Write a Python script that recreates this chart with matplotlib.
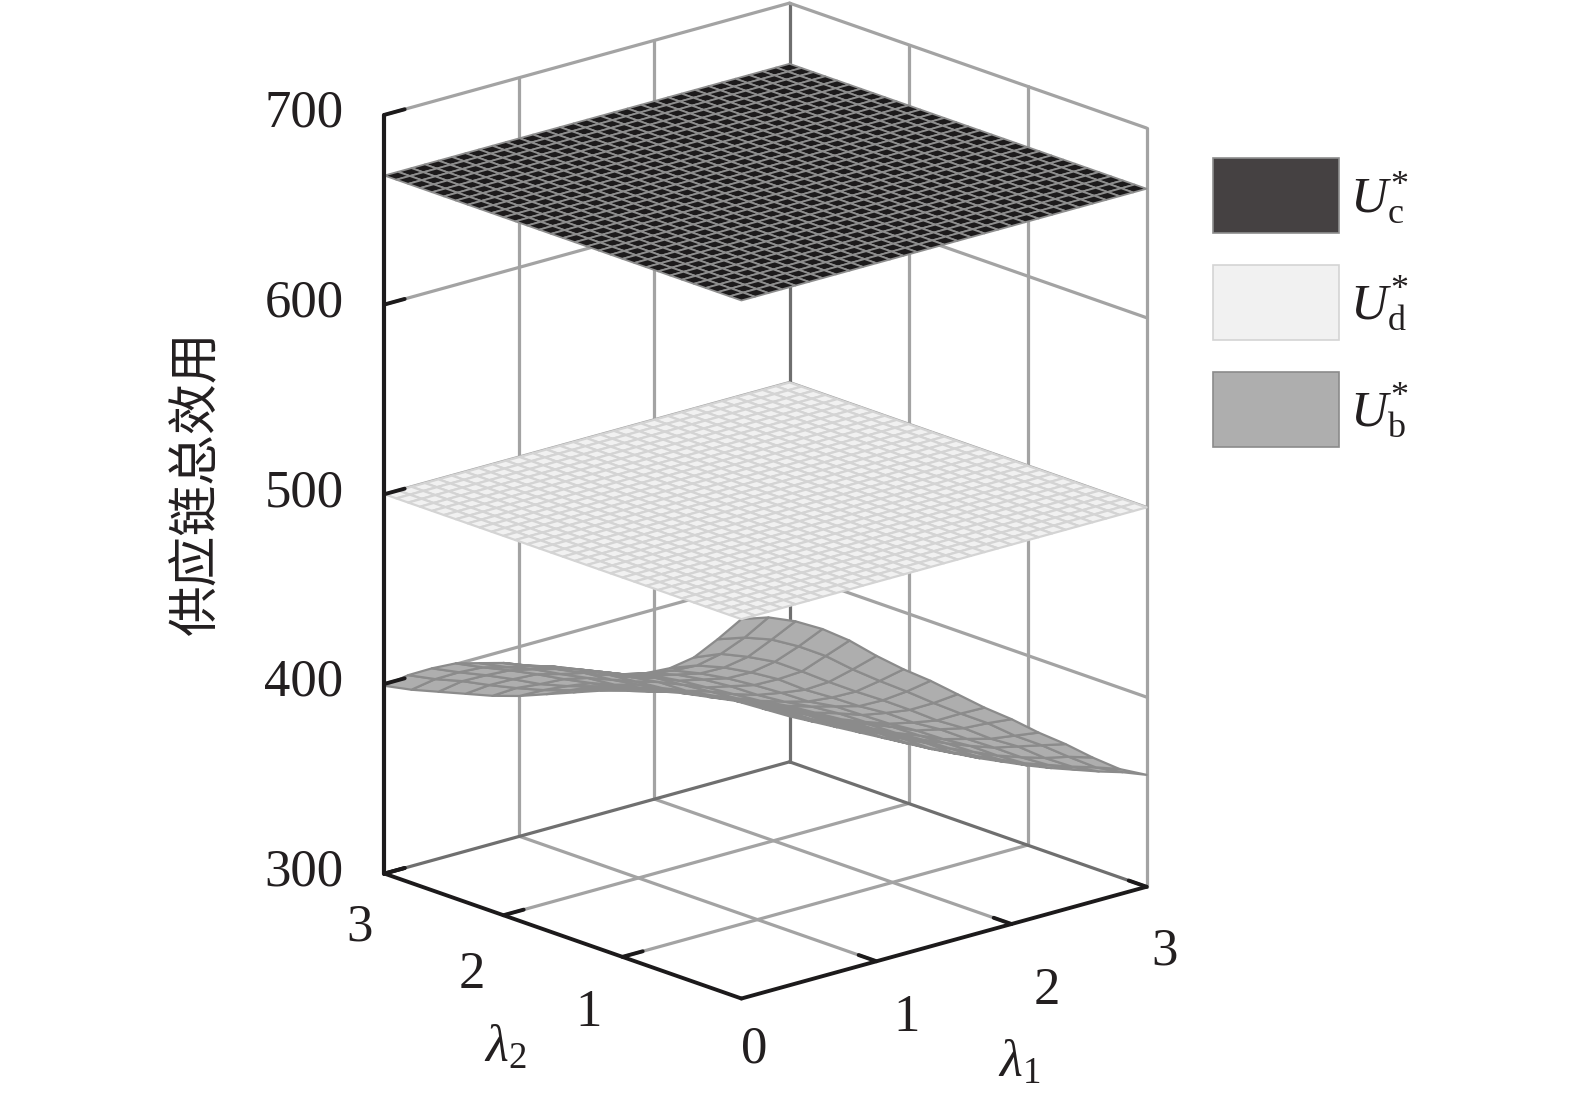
import numpy as np
import matplotlib
matplotlib.use("Agg")
import matplotlib.pyplot as plt
from matplotlib.patches import Patch
from mpl_toolkits.mplot3d import proj3d

plt.rcParams['font.family'] = ['Liberation Serif', 'DejaVu Serif']
plt.rcParams['mathtext.fontset'] = 'custom'
plt.rcParams['mathtext.rm'] = 'Liberation Serif'
plt.rcParams['mathtext.it'] = 'Liberation Serif:italic'
plt.rcParams['mathtext.bf'] = 'Liberation Serif:bold'

# ---- data ----
lambda1_ticks = [0, 1, 2, 3]
lambda2_ticks = [0, 1, 2, 3]
z_ticks = [300, 400, 500, 600, 700]
plane_grid = np.arange(31) * 0.1
U_c_level = 668
U_d_level = 500
surface_l1 = np.arange(16) * 0.2
surface_l2 = np.arange(16) * 0.2
U_b = np.array([
    [500, 485, 471, 461, 454, 449, 444.5, 441.5, 439, 436, 433, 428.5, 424, 417, 409, 399],
    [497, 482, 469, 458.5, 451.5, 445.5, 440.5, 437.5, 434.5, 431.5, 427.5, 422.5, 418, 411, 403, 393],
    [491, 477, 463.5, 453.5, 446, 441, 436, 432, 429, 425, 422, 417.5, 412.5, 405.5, 398, 388],
    [483, 469.5, 457, 447, 439.5, 434.5, 429.5, 426.5, 422.5, 419.5, 416, 411, 406.5, 399.5, 392, 383],
    [473, 460.5, 448, 439.5, 432, 427, 422, 419, 416, 412, 408.5, 405, 400, 393, 386.5, 378],
    [461, 449.5, 438.5, 430, 424, 418.5, 414.5, 411.5, 407.5, 404.5, 402, 397.5, 394, 388, 381.5, 374],
    [450, 439.5, 429.5, 422, 415.5, 411, 407, 404, 401, 398, 395.5, 392, 388.5, 384, 377.5, 371],
    [440, 430, 421, 413.5, 409, 404.5, 400.5, 397.5, 395.5, 392.5, 390, 387, 383.5, 380, 374.5, 368],
    [429, 420, 412, 406, 400.5, 397, 393, 391, 389, 386, 384.5, 381.5, 379, 374.5, 370.5, 365],
    [418, 410.5, 402.5, 397, 392, 388.5, 385.5, 383.5, 381.5, 380, 377, 375, 373, 369.5, 365, 361],
    [408, 401.5, 394.5, 389.5, 384.5, 382, 379, 377, 375, 373.5, 371, 369, 367, 364, 361, 357],
    [397, 391, 385, 380.5, 376, 373.5, 370.5, 368.5, 367.5, 366, 364, 362.5, 360.5, 358, 355, 352],
    [387, 382, 377, 372, 368.5, 365.5, 363, 361, 359, 357.5, 356, 355, 353, 351, 349, 346],
    [376, 372, 367, 363, 359.5, 357, 354.5, 353, 351, 349.5, 348.5, 347, 346, 344, 342, 340],
    [366, 362.5, 358.5, 355, 351.5, 349, 346.5, 344, 342, 340.5, 339, 338.5, 337, 335.5, 334, 332],
    [359, 356, 352, 348.5, 345, 342, 339.5, 337, 335, 333, 331.5, 330, 328.5, 327, 325.5, 324],
])
legend_labels = [r'$U_{\mathrm{c}}^{*}$', r'$U_{\mathrm{d}}^{*}$', r'$U_{\mathrm{b}}^{*}$']
y_label = '供应链总效用'

# ---- figure ----
W, H = 1575, 1100
fig = plt.figure(figsize=(W / 100, H / 100), dpi=100)
side = 1072.2
ax = fig.add_axes([214.9 / W, 48.6 / H, side / W, side / H], projection='3d',
                  proj_type='ortho', computed_zorder=False)
ax.patch.set_alpha(0)
ax.set_axis_off()
ax.set_box_aspect((541.6, 537.6, 798))
ax.view_init(elev=18.1, azim=-131.6)
ax.set_xlim(0, 3); ax.set_ylim(0, 3); ax.set_zlim(300, 700)

GRID = '#a3a3a3'
DARK = '#6f6f6f'
BLACK = '#1c1a1b'
LW = 2.3

def seg(a, b, color=GRID, lw=LW, z=1):
    ax.plot([a[0], b[0]], [a[1], b[1]], [a[2], b[2]], color=color, lw=lw, zorder=z,
            solid_capstyle='round')

zmin, zmax = z_ticks[0], z_ticks[-1]
# walls and floor grid
for t in lambda1_ticks[1:-1]:
    seg((t, 3, zmin), (t, 3, zmax))
    seg((t, 0, zmin), (t, 3, zmin))
for t in lambda2_ticks[1:-1]:
    seg((3, t, zmin), (3, t, zmax))
    seg((0, t, zmin), (3, t, zmin))
for v in z_ticks[1:-1]:
    seg((0, 3, v), (3, 3, v))
    seg((3, 3, v), (3, 0, v))
# box edges
seg((3, 3, zmin), (3, 3, zmax), DARK)
seg((0, 3, zmin), (3, 3, zmin), DARK)
seg((3, 0, zmin), (3, 3, zmin), DARK)
seg((0, 3, zmax), (3, 3, zmax))
seg((3, 0, zmax), (3, 3, zmax))
seg((3, 0, zmin), (3, 0, zmax))

# surfaces
X, Y = np.meshgrid(surface_l1, surface_l2, indexing='ij')
ax.plot_surface(X, Y, U_b, rstride=1, cstride=1, color='#aeaeae', edgecolor='#8b8b8b',
                linewidth=1.6, shade=False, zorder=2)
PX, PY = np.meshgrid(plane_grid, plane_grid, indexing='ij')
ax.plot_surface(PX, PY, np.full(PX.shape, U_d_level, float), rstride=1, cstride=1,
                color='#f1f1f1', edgecolor='#d4d4d4', linewidth=1.6, shade=False, zorder=3)
ax.plot_surface(PX, PY, np.full(PX.shape, U_c_level, float), rstride=1, cstride=1,
                color='#1c1a1b', edgecolor='#8e8e8e', linewidth=1.3, shade=False, zorder=4)

# axis lines and ticks
seg((0, 3, zmin), (0, 3, zmax), BLACK, 3.0, 6)
seg((0, 0, zmin), (3, 0, zmin), BLACK, 2.8, 6)
seg((0, 0, zmin), (0, 3, zmin), BLACK, 2.8, 6)
TL = 0.15
for v in z_ticks:
    seg((0, 3, v), (TL, 3, v), BLACK, 2.8, 6)
for t in lambda1_ticks[1:]:
    seg((t, 0, zmin), (t, TL, zmin), BLACK, 2.8, 6)
for t in lambda2_ticks[1:]:
    seg((0, t, zmin), (TL, t, zmin), BLACK, 2.8, 6)

M = ax.get_proj()
def label(txt, pt, off, ha='center', fs=38):
    x, y, _ = proj3d.proj_transform(pt[0], pt[1], pt[2], M)
    ax.annotate(txt, xy=(x, y), xycoords='data', xytext=off, textcoords='offset pixels',
                ha=ha, va='center', fontsize=fs, color='#231f20', annotation_clip=False)

for v in z_ticks:
    label(str(v), (0, 3, v), (-41, 1), ha='right')
for t, off in zip(lambda1_ticks, [(13, -51), (30, -57), (35, -67), (18, -65)]):
    label(str(t), (t, 0, zmin), off)
for t, off in zip(lambda2_ticks[1:], [(-34, -56), (-32, -60), (-25, -54)]):
    label(str(t), (0, t, zmin), off)

fig.text(505 / W, 1 - 1049 / H, r'$\lambda_{2}$', fontsize=38, ha='center', va='center', color='#231f20')
fig.text(1019 / W, 1 - 1064 / H, r'$\lambda_{1}$', fontsize=38, ha='center', va='center', color='#231f20')
fig.text(197 / W, 1 - 483 / H, y_label, rotation=90, ha='center', va='center', fontsize=36.5,
         color='#231f20', family=['Noto Sans CJK SC', 'DejaVu Sans'])

handles = [Patch(facecolor='#454142', edgecolor='#8e8e8e', lw=1.2),
           Patch(facecolor='#f1f1f1', edgecolor='#d4d4d4', lw=1.2),
           Patch(facecolor='#aeaeae', edgecolor='#8b8b8b', lw=1.2)]
leg = fig.legend(handles, legend_labels, loc='upper left', bbox_to_anchor=(1213 / W, 1 - 158 / H),
                 frameon=False, fontsize=37, borderpad=0, borderaxespad=0,
                 handlelength=126 / 51.4, handleheight=1.868,
                 labelspacing=32 / 51.4, handletextpad=11 / 51.4, labelcolor='#231f20')

fig.savefig('out.png', dpi=100)
